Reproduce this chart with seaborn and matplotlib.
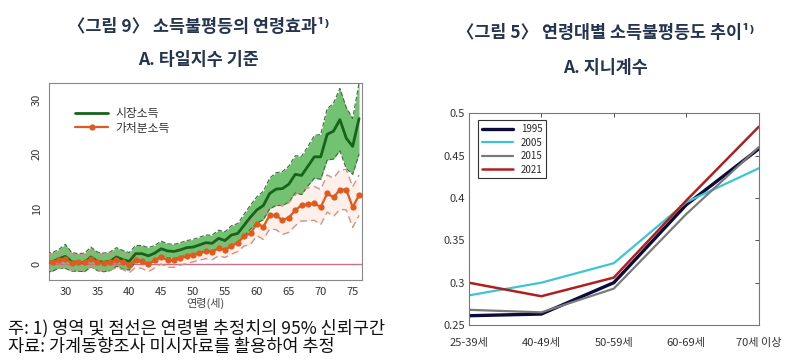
import numpy as np
import pandas as pd
import matplotlib
matplotlib.use('Agg')
import matplotlib.pyplot as plt
import seaborn as sns

# ---- left panel data: Theil index age effect (ages 27..76) ----
ages = list(range(27, 77))
market = [0.2, 0.3, 0.9, 1.3, 0.3, 0.2, 0.2, 1.2, 0.4, 0.2,
          0.4, 1.2, 0.7, 0.4, 1.8, 1.8, 1.4, 1.9, 2.7, 2.3,
          2.2, 2.5, 2.9, 3.0, 3.4, 3.8, 3.7, 4.6, 4.2, 5.2,
          5.5, 7.0, 8.5, 9.8, 10.6, 12.8, 13.6, 13.7, 14.5, 16.3,
          16.1, 17.8, 19.5, 19.5, 23.6, 24.2, 26.3, 22.9, 21.4, 26.5]
market_hi = [2.0, 2.0, 2.6, 3.5, 2.0, 1.8, 1.9, 3.0, 2.1, 1.9,
             2.1, 2.9, 2.4, 2.0, 3.3, 3.3, 2.9, 3.3, 4.1, 3.6,
             3.5, 3.8, 4.2, 4.4, 4.8, 5.2, 5.2, 6.1, 5.8, 6.9,
             7.3, 9.0, 10.7, 12.2, 13.2, 15.6, 16.6, 16.8, 17.8, 19.7,
             19.6, 21.4, 23.4, 23.6, 28.3, 29.3, 32.0, 28.5, 26.5, 33.0]
market_lo = [-1.6, -1.4, -0.8, -0.9, -1.4, -1.4, -1.5, -0.6, -1.3, -1.5,
             -1.3, -0.5, -1.0, -1.2, 0.3, 0.3, -0.1, 0.5, 1.3, 1.0,
             0.9, 1.2, 1.6, 1.6, 2.0, 2.4, 2.2, 3.1, 2.6, 3.5,
             3.7, 5.0, 6.3, 7.4, 8.0, 10.0, 10.6, 10.6, 11.2, 12.9,
             12.6, 14.2, 15.6, 15.4, 18.9, 19.1, 20.6, 17.3, 16.3, 20.0]
dispos = [0.2, 0.3, 0.6, 0.9, 0.1, 0.2, 0.2, 0.9, 0.2, 0.1,
          0.2, 0.6, 0.3, -0.3, 0.7, 0.5, -0.1, 0.6, 1.2, 0.6,
          0.6, 1.0, 1.3, 1.6, 1.9, 2.2, 2.1, 2.8, 2.5, 3.2,
          3.8, 5.0, 5.5, 7.3, 6.7, 8.8, 8.8, 7.9, 8.4, 9.7,
          10.7, 10.8, 11.0, 10.3, 12.8, 12.1, 13.5, 13.5, 10.3, 12.5]
dispos_hi = [1.6, 1.7, 2.0, 2.3, 1.5, 1.6, 1.6, 2.3, 1.6, 1.5,
             1.6, 2.0, 1.7, 1.1, 2.1, 1.9, 1.3, 2.0, 2.5, 1.9,
             1.9, 2.3, 2.6, 2.9, 3.2, 3.5, 3.5, 4.2, 3.9, 4.7,
             5.4, 6.8, 7.5, 9.5, 9.0, 11.3, 11.4, 10.5, 11.1, 12.5,
             13.6, 13.8, 14.1, 13.5, 16.2, 15.6, 17.1, 17.2, 14.0, 16.2]
dispos_lo = [-1.2, -1.1, -0.8, -0.5, -1.3, -1.2, -1.2, -0.5, -1.2, -1.3,
             -1.2, -0.8, -1.1, -1.7, -0.7, -0.9, -1.5, -0.8, -0.1, -0.7,
             -0.7, -0.3, 0.0, 0.3, 0.6, 0.9, 0.7, 1.4, 1.1, 1.7,
             2.2, 3.2, 3.5, 5.1, 4.4, 6.3, 6.2, 5.3, 5.7, 6.9,
             7.8, 7.8, 7.9, 7.1, 9.4, 8.6, 9.9, 9.8, 6.6, 8.8]

# ---- right panel data: Gini coefficient by age group ----
groups = ['25-39세', '40-49세', '50-59세', '60-69세', '70세 이상']
gini = {
    '1995': [0.261, 0.263, 0.300, 0.392, 0.458],
    '2005': [0.285, 0.300, 0.323, 0.395, 0.435],
    '2015': [0.268, 0.265, 0.293, 0.381, 0.460],
    '2021': [0.300, 0.284, 0.306, 0.397, 0.484],
}
year_colors = {'1995': '#0b0b3b', '2005': '#3cc6d2', '2015': '#7a7a7a', '2021': '#b0201e'}
year_widths = {'1995': 2.4, '2005': 1.6, '2015': 1.6, '2021': 1.8}

sns.set_style('white')
plt.rcParams['font.family'] = ['Noto Sans CJK KR', 'DejaVu Sans']
plt.rcParams['axes.unicode_minus'] = False

fig = plt.figure(figsize=(8, 3.64), dpi=100)
fig.patch.set_facecolor('white')

title_color = '#25344f'
fig.text(0.248, 0.925, '〈그림 9〉 소득불평등의 연령효과¹⁾', ha='center', va='center',
         fontsize=12.5, fontweight='bold', color=title_color)
fig.text(0.248, 0.835, 'A. 타일지수 기준', ha='center', va='center',
         fontsize=12.5, fontweight='bold', color=title_color)
fig.text(0.757, 0.909, '〈그림 5〉 연령대별 소득불평등도 추이¹⁾', ha='center', va='center',
         fontsize=12.5, fontweight='bold', color=title_color)
fig.text(0.757, 0.813, 'A. 지니계수', ha='center', va='center',
         fontsize=12.5, fontweight='bold', color=title_color)

# ---- left panel ----
ax1 = fig.add_axes([0.061, 0.231, 0.391, 0.541])
left = pd.DataFrame({'age': ages, 'market': market, 'dispos': dispos})

ax1.fill_between(ages, dispos_lo, dispos_hi, color='#fdf0ea', lw=0, zorder=1)
ax1.fill_between(ages, market_lo, market_hi, color='#72c271', lw=0, zorder=2)
ax1.plot(ages, market_hi, color='#3b6e3b', lw=0.8, ls=(0, (4, 2)), zorder=3)
ax1.plot(ages, market_lo, color='#3b6e3b', lw=0.8, ls=(0, (4, 2)), zorder=3)
ax1.plot(ages, dispos_hi, color='#cf9484', lw=1.0, ls=(0, (5, 3)), zorder=3)
ax1.plot(ages, dispos_lo, color='#cf9484', lw=1.0, ls=(0, (5, 3)), zorder=3)
ax1.axhline(0, color='#c9708c', lw=1.0, zorder=2)

sns.lineplot(data=left, x='age', y='market', ax=ax1, color='#16641a', lw=2.0,
             label='시장소득', zorder=5)
sns.lineplot(data=left, x='age', y='dispos', ax=ax1, color='#e05a1e', lw=1.6,
             marker='o', markersize=4.5, markeredgewidth=0, label='가처분소득', zorder=6)

ax1.set_xlim(27.4, 76.4)
ax1.set_ylim(-3, 33)
ax1.set_xticks([30, 35, 40, 45, 50, 55, 60, 65, 70, 75])
ax1.set_yticks([0, 10, 20, 30])
ax1.tick_params(axis='both', direction='out', length=3, width=0.6, labelsize=8,
                colors='#333333', pad=2)
plt.setp(ax1.get_yticklabels(), rotation=90, va='center')
ax1.set_xlabel('연령(세)', fontsize=8, color='#444444', labelpad=1)
ax1.set_ylabel('')
for s in ax1.spines.values():
    s.set_color('#888888')
    s.set_linewidth(0.8)
leg1 = ax1.legend(loc='upper left', frameon=False, fontsize=8.5, handlelength=2.8,
                  bbox_to_anchor=(0.07, 0.9), borderaxespad=0, labelspacing=0.1,
                  handletextpad=0.6)
for t in leg1.get_texts():
    t.set_color('#333333')

# ---- right panel ----
ax2 = fig.add_axes([0.586, 0.107, 0.3625, 0.582])
rows = []
for yr, vals in gini.items():
    for g, v in zip(groups, vals):
        rows.append({'group': g, 'gini': v, 'year': yr})
right = pd.DataFrame(rows)
for yr in gini:
    sns.lineplot(data=right[right['year'] == yr], x='group', y='gini', ax=ax2,
                 color=year_colors[yr], lw=year_widths[yr], label=yr, sort=False)

ax2.set_xlim(0, 4)
ax2.set_ylim(0.25, 0.5)
ax2.set_yticks([0.25, 0.3, 0.35, 0.4, 0.45, 0.5])
ax2.set_yticklabels(['0.25', '0.3', '0.35', '0.4', '0.45', '0.5'])
ax2.set_xticks(range(len(groups)))
ax2.set_xticklabels(groups)
ax2.tick_params(axis='both', direction='in', length=3, width=0.6, labelsize=8,
                colors='#333333', top=True, right=True)
ax2.tick_params(axis='x', pad=9)
ax2.tick_params(axis='y', pad=3)
ax2.set_xlabel('')
ax2.set_ylabel('')
for s in ax2.spines.values():
    s.set_color('#777777')
    s.set_linewidth(0.8)
leg2 = ax2.legend(loc='upper left', fontsize=7, handlelength=3.2, frameon=True,
                  fancybox=False, edgecolor='#333333', framealpha=1,
                  bbox_to_anchor=(0.025, 0.975), borderaxespad=0.2, labelspacing=0.35)
leg2.get_frame().set_linewidth(0.8)

# ---- notes ----
fig.text(0.01, 0.099, '주: 1) 영역 및 점선은 연령별 추정치의 95% 신뢰구간', ha='left', va='center',
         fontsize=12.6, color='#111111')
fig.text(0.01, 0.047, '자료: 가계동향조사 미시자료를 활용하여 추정', ha='left', va='center',
         fontsize=12.6, color='#111111')

fig.savefig('out.png', dpi=100, facecolor='white')
